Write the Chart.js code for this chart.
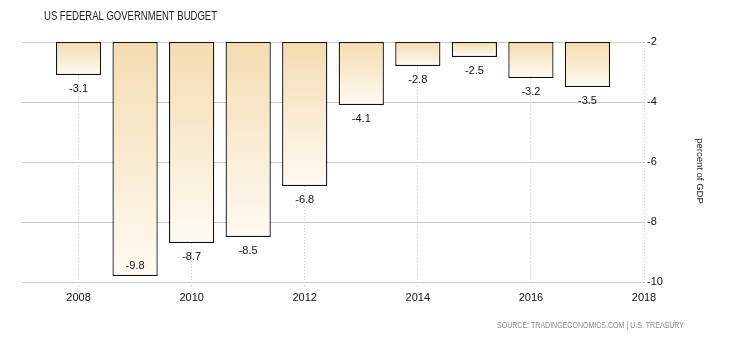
<!DOCTYPE html>
<html>
<head>
<meta charset="utf-8">
<script src="https://cdn.jsdelivr.net/npm/chart.js@4"></script>
<style>
  html, body { margin: 0; padding: 0; background: #fff; }
  #wrap { width: 730px; height: 340px; position: relative; }
</style>
</head>
<body>
<div id="wrap"><canvas id="c" width="730" height="340"></canvas></div>
<script>
const years = [2008, 2009, 2010, 2011, 2012, 2013, 2014, 2015, 2016, 2017];
const values = [-3.1, -9.8, -8.7, -8.5, -6.8, -4.1, -2.8, -2.5, -3.2, -3.5];
const xTickLabels = [2008, 2010, 2012, 2014, 2016, 2018];
const yTickValues = [-2, -4, -6, -8, -10];
const titleText = 'US FEDERAL GOVERNMENT BUDGET';
const yAxisTitle = 'percent of GDP';
const sourceText = 'SOURCE: TRADINGECONOMICS.COM | U.S. TREASURY';
const baseValue = -2;

const FONT = '"Liberation Sans", Arial, sans-serif';
const gridColor = '#c9c9c9';

function barGradient(ctx) {
  const chart = ctx.chart;
  const y = chart.scales && chart.scales.y;
  if (!y || ctx.type !== 'data') return '#f5deb3';
  const v = ctx.raw && Array.isArray(ctx.raw.y) ? ctx.raw.y[1] : values[ctx.dataIndex];
  const top = y.getPixelForValue(baseValue);
  const bottom = y.getPixelForValue(v);
  if (!isFinite(top) || !isFinite(bottom) || bottom === top) return '#f5deb3';
  const g = chart.ctx.createLinearGradient(0, top, 0, bottom);
  g.addColorStop(0, '#f4dcb0');
  g.addColorStop(1, '#fefaf3');
  return g;
}

function fitText(ctx, text, x, y, targetWidth, align) {
  const w = ctx.measureText(text).width;
  const s = Math.min(1, targetWidth / w);
  ctx.save();
  ctx.translate(x, y);
  ctx.scale(s, 1);
  ctx.textAlign = align;
  ctx.fillText(text, 0, 0);
  ctx.restore();
}

const decorPlugin = {
  id: 'decor',
  afterDatasetsDraw(chart) {
    const ctx = chart.ctx;
    const area = chart.chartArea;
    const meta = chart.getDatasetMeta(0);
    ctx.save();
    ctx.font = '11px ' + FONT;
    ctx.fillStyle = '#111';
    ctx.textAlign = 'center';
    ctx.textBaseline = 'middle';
    meta.data.forEach((el, i) => {
      const bottom = Math.max(el.y, el.base);
      let ty = bottom + 14;
      if (ty > area.bottom - 8) ty = bottom - 10;
      ctx.fillText(values[i].toFixed(1), el.x, ty);
    });
    ctx.restore();
  },
  afterDraw(chart) {
    const ctx = chart.ctx;
    ctx.save();
    ctx.textBaseline = 'middle';

    ctx.fillStyle = '#222';
    ctx.font = '12px ' + FONT;
    fitText(ctx, titleText, 44, 17, 173, 'left');

    ctx.fillStyle = '#888';
    ctx.font = '9px ' + FONT;
    fitText(ctx, sourceText, 684, 326, 187, 'right');

    ctx.fillStyle = '#222';
    ctx.font = '9.5px ' + FONT;
    ctx.textAlign = 'center';
    ctx.translate(700, 171);
    ctx.rotate(Math.PI / 2);
    ctx.fillText(yAxisTitle, 0, 0);
    ctx.restore();
  }
};

new Chart(document.getElementById('c'), {
  type: 'bar',
  data: {
    datasets: [{
      data: years.map((yr, i) => ({ x: yr, y: [baseValue, values[i]] })),
      backgroundColor: barGradient,
      borderColor: '#111',
      borderWidth: 1.3,
      borderSkipped: false,
      categoryPercentage: 0.8,
      barPercentage: 1.0
    }]
  },
  options: {
    responsive: false,
    animation: false,
    devicePixelRatio: 1,
    layout: { padding: { left: 22, top: 42, right: 0, bottom: 0 } },
    plugins: { legend: { display: false }, tooltip: { enabled: false }, title: { display: false } },
    scales: {
      x: {
        type: 'linear',
        min: 2007,
        max: 2018,
        offset: false,
        afterBuildTicks(scale) { scale.ticks = xTickLabels.map(v => ({ value: v })); },
        afterFit(scale) { scale.height = 58; },
        grid: {
          offset: false,
          color: gridColor,
          borderDash: [1, 2],
          tickBorderDash: [1, 2],
          tickColor: gridColor,
          drawTicks: true,
          tickLength: 5,
          lineWidth: 1
        },
        border: { display: false, dash: [1, 2] },
        ticks: {
          callback: v => String(v),
          color: '#111',
          font: { family: FONT, size: 11 },
          padding: 4,
          maxRotation: 0,
          autoSkip: false
        }
      },
      y: {
        position: 'right',
        min: -10,
        max: -2,
        afterBuildTicks(scale) { scale.ticks = yTickValues.map(v => ({ value: v })); },
        afterFit(scale) { scale.width = 86; },
        grid: {
          color: gridColor,
          borderDash: [1, 2],
          drawTicks: false,
          lineWidth: 1
        },
        border: { display: false },
        ticks: {
          color: '#111',
          font: { family: FONT, size: 11 },
          padding: 3
        }
      }
    }
  },
  plugins: [decorPlugin]
});
</script>
</body>
</html>
